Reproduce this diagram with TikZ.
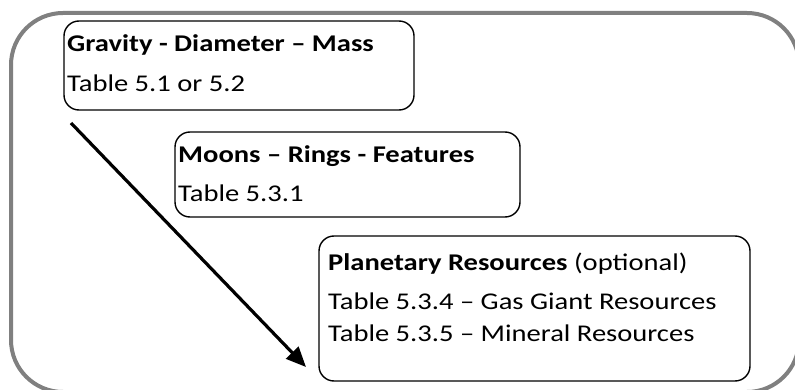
\documentclass[tikz,border=0pt]{standalone}
\usepackage{fontspec}
\setmainfont{Carlito}[FakeStretch=1.19]
\usetikzlibrary{arrows.meta}
\tikzset{
  frame/.style={draw=black!50, line width=4pt, rounded corners=52pt},
  box/.style={draw=black, line width=1.4pt, rounded corners=15pt},
  txt/.style={anchor=base west, inner sep=0pt, font=\fontsize{24}{28}\selectfont},
  flow/.style={line width=3.2pt, -{Triangle[length=20pt,width=17pt]}}
}
\begin{document}
\begin{tikzpicture}[x=1pt,y=-1pt]
\useasboundingbox (0,0) rectangle (795,390);
\clip (0,0) rectangle (795,390);
\draw[frame] (11,13) rectangle (799,392);
\draw[box] (64,21) rectangle (414,110);
\draw[box] (175,132) rectangle (520,217);
\draw[box] (319,236) rectangle (750,381);
\node[txt] (t1a) at (67,52) {\textbf{Gravity - Diameter – Mass}};
\node[txt] (t1b) at (67,92) {Table 5.1 or 5.2};
\node[txt] (t2a) at (178,163) {\textbf{Moons – Rings - Features}};
\node[txt] (t2b) at (178,202) {Table 5.3.1};
\node[txt] (t3a) at (328,270) {\textbf{Planetary Resources} (optional)};
\node[txt] (t3b) at (328,309) {Table 5.3.4 – Gas Giant Resources};
\node[txt] (t3c) at (328,341) {Table 5.3.5 – Mineral Resources};
\coordinate (s) at (71,123);
\coordinate (e) at (306,367);
\draw[flow] (s) -- (e);
\end{tikzpicture}
\end{document}
